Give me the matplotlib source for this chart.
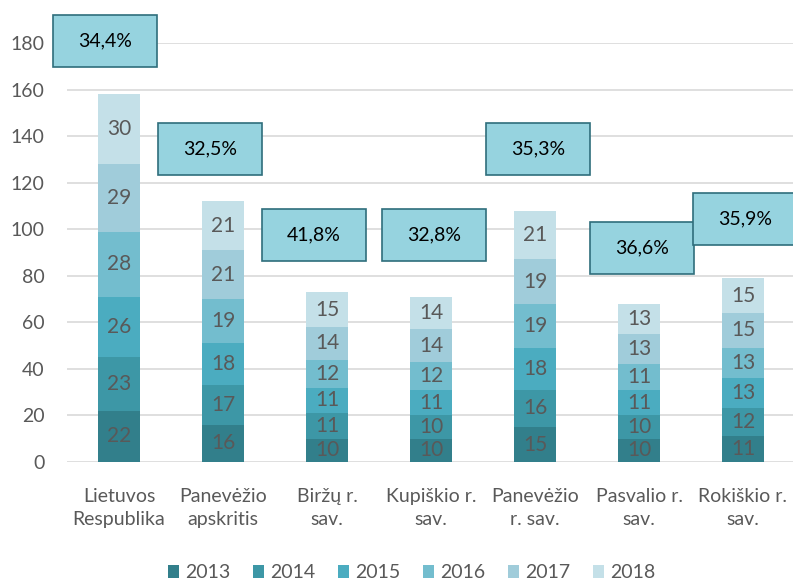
import numpy as np
import matplotlib.pyplot as plt
from matplotlib.patches import Rectangle

plt.rcParams['font.family'] = ['Lato', 'DejaVu Sans']

categories = ['Lietuvos\nRespublika', 'Panevėžio\napskritis', 'Biržų r.\nsav.', 'Kupiškio r.\nsav.',
              'Panevėžio\nr. sav.', 'Pasvalio r.\nsav.', 'Rokiškio r.\nsav.']
years = ['2013', '2014', '2015', '2016', '2017', '2018']
values = {
    '2013': [22, 16, 10, 10, 15, 10, 11],
    '2014': [23, 17, 11, 10, 16, 10, 12],
    '2015': [26, 18, 11, 11, 18, 11, 13],
    '2016': [28, 19, 12, 12, 19, 11, 13],
    '2017': [29, 21, 14, 14, 19, 13, 15],
    '2018': [30, 21, 15, 14, 21, 13, 15],
}
shares = ['34,4%', '32,5%', '41,8%', '32,8%', '35,3%', '36,6%', '35,9%']

colors = ['#327F8B', '#3D97A6', '#4BACC0', '#73BDCE', '#A0CCDA', '#C4E0E8']
grey = '#595959'

# where the share boxes sit (centre x, centre y in data units)
box_x = [-0.13, 0.875, 1.875, 3.03, 4.03, 5.03, 6.02]
box_y = [180.8, 134.4, 97.5, 97.5, 134.4, 91.9, 104.4]

fig = plt.figure(figsize=(7.93, 5.81), dpi=100)
ax = fig.add_axes([67 / 793, 1 - 462 / 581, 728 / 793, 419 / 581])

x = np.arange(len(categories))
bottom = np.zeros(len(categories))
for yr, c in zip(years, colors):
    v = np.array(values[yr])
    ax.bar(x, v, width=0.4, bottom=bottom, color=c, label=yr, zorder=2)
    for xi, b, vi in zip(x, bottom, v):
        ax.text(xi, b + vi / 2, str(vi), ha='center', va='center', fontsize=15, color=grey, zorder=3)
    bottom += v

for bx, by, s in zip(box_x, box_y, shares):
    ax.add_patch(Rectangle((bx - 0.5, by - 11.2), 1.0, 22.4, facecolor='#96D3DF', edgecolor='#2F6E7C',
                           lw=1.2, zorder=4, clip_on=False))
    ax.text(bx, by, s, ha='center', va='center', fontsize=14, color='black', zorder=5)

ax.set_xlim(-0.5, 6.5)
ax.set_ylim(0, 180)
ax.set_yticks(np.arange(0, 181, 20))
ax.set_xticks(x)
ax.set_xticklabels(categories, linespacing=1.4)
ax.tick_params(axis='both', length=0, labelsize=14, colors=grey)
ax.tick_params(axis='x', pad=19)
ax.tick_params(axis='y', pad=16)
ax.grid(axis='y', color='#D9D9D9', lw=1.2, zorder=0)
for side in ax.spines:
    ax.spines[side].set_visible(False)

leg = fig.legend(loc='center', bbox_to_anchor=(0.519, 1 - 573 / 581), ncol=6, frameon=False,
                 handlelength=0.6, handleheight=0.6, handletextpad=0.3, columnspacing=1.15,
                 fontsize=14, labelcolor=grey)

fig.savefig('out.png', dpi=100)
